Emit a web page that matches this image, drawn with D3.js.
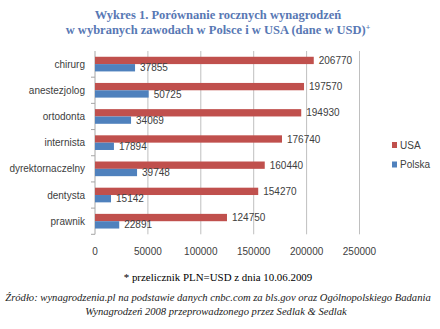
<!DOCTYPE html>
<html><head><meta charset="utf-8">
<script src="https://cdn.jsdelivr.net/npm/d3@7"></script>
<style>body{margin:0;background:#fff}</style>
</head><body>
<script>
const categories = ["chirurg","anestezjolog","ortodonta","internista","dyrektornaczelny","dentysta","prawnik"];
const usaValues = [206770,197570,194930,176740,160440,154270,124750];
const polskaValues = [37855,50725,34069,17894,39748,15142,22891];
const xTicks = [0,50000,100000,150000,200000,250000];
const seriesNames = ["USA","Polska"];
const seriesColors = ["#C0504D","#4F81BD"];
const titleLines = ["Wykres 1. Porównanie rocznych wynagrodzeń","w wybranych zawodach w Polsce i w USA (dane w USD)"];
const footnote = "* przelicznik PLN=USD z dnia 10.06.2009";
const sourceLines = ["Źródło: wynagrodzenia.pl na podstawie danych cnbc.com za bls.gov oraz Ogólnopolskiego Badania","Wynagrodzeń 2008 przeprowadzonego przez Sedlak & Sedlak"];

const W=440,H=329;
const svg=d3.select("body").append("svg").attr("width",W).attr("height",H);
const pL=95, pR=359.5, pT=51, pB=234.3;
const x=d3.scaleLinear().domain([0,250000]).range([pL,pR]);
const y=d3.scaleBand().domain(categories).range([pT,pB]).paddingInner(0.44).paddingOuter(0.22);
const yOuter=d3.scaleBand().domain(categories).range([pT,pB]);
const sub=d3.scaleBand().domain(seriesNames).range([0,y.bandwidth()]);

// title
const tt=svg.append("g").attr("font-family","'Liberation Serif','Times New Roman',serif").attr("font-weight","bold").attr("font-size",12.5).attr("fill","#5878B4").attr("text-anchor","middle");
tt.append("text").attr("x",218).attr("y",19).text(titleLines[0]);
const t2=tt.append("text").attr("x",218).attr("y",34).text(titleLines[1]);
t2.append("tspan").attr("font-size",8).attr("dy",-4).text("+");

// gridlines
svg.append("g").selectAll("line").data(xTicks.slice(1)).join("line")
 .attr("x1",d=>x(d)).attr("x2",d=>x(d)).attr("y1",pT).attr("y2",pB)
 .attr("stroke","#BFBFBF").attr("stroke-width",1);

// y axis line and ticks
const ax=svg.append("g").attr("stroke","#A6A6A6");
ax.append("line").attr("x1",pL).attr("x2",pL).attr("y1",pT).attr("y2",pB);
ax.selectAll("line.t").data(categories).join("line").attr("class","t")
 .attr("x1",pL-4).attr("x2",pL)
 .attr("y1",d=>yOuter(d)+yOuter.step()).attr("y2",d=>yOuter(d)+yOuter.step());

const data = categories.map((c,i)=>({c, v:[usaValues[i],polskaValues[i]]}));
const lab = "'Liberation Sans',Arial,sans-serif";
const g=svg.append("g");
seriesNames.forEach((s,si)=>{
  g.selectAll("rect.s"+si).data(data).join("rect").attr("class","s"+si)
   .attr("x",x(0)).attr("y",d=>y(d.c)+sub(s)).attr("height",sub.bandwidth())
   .attr("width",d=>x(d.v[si])-x(0)).attr("fill",seriesColors[si]);
  g.selectAll("text.l"+si).data(data).join("text").attr("class","l"+si)
   .attr("x",d=>x(d.v[si])+5).attr("y",d=>y(d.c)+sub(s)+sub.bandwidth()/2+3.6)
   .attr("font-family",lab).attr("font-size",10).attr("fill","#404040").text(d=>d.v[si]);
});

// category labels
svg.append("g").selectAll("text").data(categories).join("text")
 .attr("x",pL-10).attr("y",d=>yOuter(d)+yOuter.step()/2+3.5).attr("text-anchor","end")
 .attr("font-family",lab).attr("font-size",10).attr("fill","#404040").text(d=>d);

// x tick labels
svg.append("g").selectAll("text").data(xTicks).join("text")
 .attr("x",d=>x(d)).attr("y",255).attr("text-anchor","middle")
 .attr("font-family",lab).attr("font-size",10).attr("fill","#404040").text(d=>d);

// legend
const lg=svg.append("g");
seriesNames.forEach((s,i)=>{
  const yy=145+i*19.5;
  lg.append("rect").attr("x",392).attr("y",yy-3).attr("width",5).attr("height",6).attr("fill",seriesColors[i]);
  lg.append("text").attr("x",400).attr("y",yy+3.5).attr("font-family",lab).attr("font-size",10).attr("fill","#404040").text(s);
});

// footnote and source
svg.append("text").attr("x",218).attr("y",281).attr("text-anchor","middle")
 .attr("font-family","'Liberation Serif','Times New Roman',serif").attr("font-size",10.9).attr("fill","#000").text(footnote);
const src=svg.append("g").attr("font-family","'Liberation Serif','Times New Roman',serif").attr("font-style","italic").attr("font-size",10.6).attr("fill","#1a1a1a").attr("text-anchor","middle");
src.append("text").attr("x",218).attr("y",301).text(sourceLines[0]);
src.append("text").attr("x",216).attr("y",315).text(sourceLines[1]);
</script>
</body></html>
